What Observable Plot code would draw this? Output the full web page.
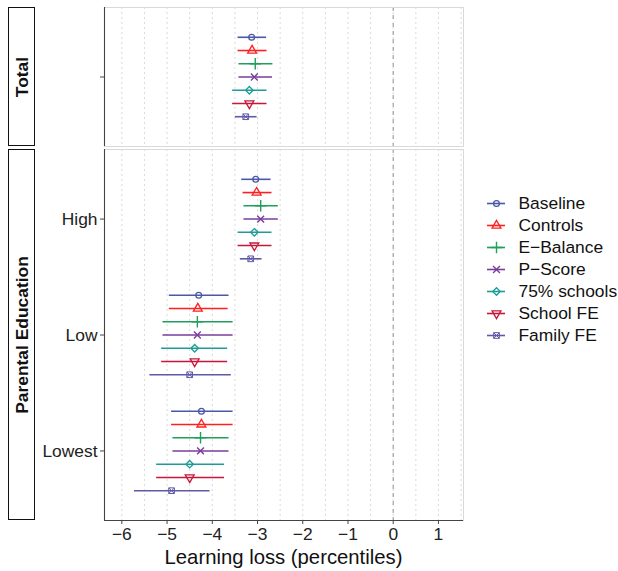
<!DOCTYPE html>
<html><head><meta charset="utf-8">
<script src="https://cdn.jsdelivr.net/npm/d3@7"></script>
<script src="https://cdn.jsdelivr.net/npm/@observablehq/plot@0.6"></script>
<style>
body{margin:0;background:#fff;font-family:"Liberation Sans",Arial,sans-serif;}
#wrap{position:relative;width:618px;height:571px;overflow:hidden;}
.strip{position:absolute;left:8px;width:27px;border:1.5px solid #111;box-sizing:border-box;background:#fff;}
.strip span{position:absolute;left:50%;top:50%;transform:translate(-50%,-50%) rotate(-90deg);white-space:nowrap;font-weight:bold;font-size:17.4px;color:#111;}
#xtitle{position:absolute;left:104px;width:359px;top:546px;text-align:center;font-size:20.3px;color:#111;}
</style></head><body>
<div id="wrap">
 <div class="strip" style="top:7px;height:139px"><span>Total</span></div>
 <div class="strip" style="top:149px;height:371px"><span>Parental Education</span></div>
 <div id="top" style="position:absolute;left:0;top:0"></div>
 <div id="bot" style="position:absolute;left:0;top:146px"></div>
 <div id="leg" style="position:absolute;left:470px;top:190px"></div>
 <div id="xtitle">Learning loss (percentiles)</div>
</div>
<script>
// ---- data ----
const models = ["Baseline","Controls","E\u2212Balance","P\u2212Score","75% schools","School FE","Family FE"];
const colors = ["#4a58a6","#ff1f1f","#1f9e5c","#7a3d9c","#1f9c97","#c8173a","#5f5aa8"];
const bottomGroups = ["High","Low","Lowest"];
const xTicks = [-6,-5,-4,-3,-2,-1,0,1];

const totalEst = [-3.13,-3.12,-3.05,-3.07,-3.18,-3.18,-3.26];
const totalLo  = [-3.43,-3.43,-3.41,-3.41,-3.55,-3.55,-3.49];
const totalHi  = [-2.80,-2.79,-2.66,-2.67,-2.79,-2.79,-3.01];

const highEst = [-3.04,-3.02,-2.93,-2.93,-3.07,-3.07,-3.15];
const highLo  = [-3.35,-3.32,-3.30,-3.30,-3.43,-3.43,-3.38];
const highHi  = [-2.70,-2.68,-2.54,-2.54,-2.68,-2.68,-2.90];

const lowEst = [-4.30,-4.32,-4.33,-4.33,-4.39,-4.39,-4.50];
const lowLo  = [-4.95,-4.95,-5.09,-5.09,-5.12,-5.12,-5.38];
const lowHi  = [-3.63,-3.65,-3.54,-3.54,-3.66,-3.66,-3.58];

const lowestEst = [-4.24,-4.24,-4.26,-4.26,-4.50,-4.50,-4.90];
const lowestLo  = [-4.90,-4.90,-4.87,-4.87,-5.23,-5.23,-5.72];
const lowestHi  = [-3.54,-3.54,-3.63,-3.63,-3.73,-3.73,-4.05];

// ---- symbols ----
const sqrt3 = Math.sqrt(3);
const triDown = {draw(ctx, size){ const y = -Math.sqrt(size/(sqrt3*3)); ctx.moveTo(0,-y*2); ctx.lineTo(-sqrt3*y, y); ctx.lineTo(sqrt3*y, y); ctx.closePath(); }};
const squareX = {draw(ctx, size){ const h = Math.sqrt(size)/2; ctx.moveTo(-h,-h); ctx.lineTo(h,-h); ctx.lineTo(h,h); ctx.lineTo(-h,h); ctx.closePath(); ctx.moveTo(-h,-h); ctx.lineTo(h,h); ctx.moveTo(h,-h); ctx.lineTo(-h,h); }};
const diamondSq = {draw(ctx, size){ const h = Math.sqrt(size)*0.62; ctx.moveTo(0,-h); ctx.lineTo(h,0); ctx.lineTo(0,h); ctx.lineTo(-h,0); ctx.closePath(); }};
const symbols = ["circle","triangle","plus","times",diamondSq,triDown,squareX];
const symR = [2.9,3.3,3.8,3.2,3.4,3.3,3.2];
const symW = [1.3,1.3,1.4,1.4,1.3,1.3,1.0];

const dodge = 0.8/7;
function rows(center, est, lo, hi){
  return models.map((m,i)=>({model:m, i, est:est[i], lo:lo[i], hi:hi[i], pos:center + (i-3)*dodge}));
}
const topData = rows(1, totalEst, totalLo, totalHi);
const botData = [
  ...rows(1, highEst, highLo, highHi),
  ...rows(2, lowEst, lowLo, lowHi),
  ...rows(3, lowestEst, lowestLo, lowestHi)
];

const xDomain = [-6.383, 1.554];
const gridVals = d3.range(-6, 1.51, 0.5);
const font = "Liberation Sans, Arial, sans-serif";
const fs = 17.4;

function panelMarks(data, yMax, isBottom){
  const marks = [
    Plot.ruleX(gridVals, {stroke:"#d6d6d6", strokeDasharray:"2,3", strokeWidth:0.9}),
    Plot.ruleX([0], {stroke:"#a3a3a3", strokeDasharray:"4,4", strokeWidth:1.2}),
    Plot.frame({stroke:"#d9d9d9", strokeWidth:1})
  ];
  models.forEach((m,i)=>{
    const d = data.filter(r=>r.i===i);
    marks.push(Plot.ruleY(d, {y:"pos", x1:"lo", x2:"hi", stroke:colors[i], strokeWidth:1.6}));
  });
  models.forEach((m,i)=>{
    const d = data.filter(r=>r.i===i);
    marks.push(Plot.dot(d, {x:"est", y:"pos", stroke:colors[i], fill:"none", symbol:symbols[i], r:symR[i], strokeWidth:symW[i]}));
  });
  marks.push(Plot.ruleX([xDomain[0]], {stroke:"#444", strokeWidth:1.1}));
  if (isBottom) {
    marks.push(Plot.ruleY([yMax], {stroke:"#444", strokeWidth:1.1}));
    marks.push(Plot.axisX({ticks:xTicks, tickSize:4, tickPadding:3, label:null, stroke:"#444", fill:"#222", fontSize:fs}));
    marks.push(Plot.axisY({ticks:[1,2,3], tickFormat:v=>bottomGroups[v-1], tickSize:4, tickPadding:3, label:null, stroke:"#444", fill:"#222", fontSize:fs}));
  } else {
    marks.push(Plot.axisY({ticks:[1], tickFormat:()=>"", tickSize:4, label:null, stroke:"#444"}));
  }
  return marks;
}

const topPlot = Plot.plot({
  width:465, height:146, marginTop:7, marginBottom:0, marginLeft:104, marginRight:2,
  style:{fontFamily:font, fontSize:fs+"px", background:"transparent", overflow:"visible"},
  x:{domain:xDomain, axis:null},
  y:{domain:[0.4,1.6], reverse:true},
  marks: panelMarks(topData, 1.6, false)
});
document.getElementById("top").append(topPlot);

const botPlot = Plot.plot({
  width:465, height:425, marginTop:3, marginBottom:51, marginLeft:104, marginRight:2,
  style:{fontFamily:font, fontSize:fs+"px", background:"transparent", overflow:"visible"},
  x:{domain:xDomain},
  y:{domain:[0.4,3.6], reverse:true},
  marks: panelMarks(botData, 3.6, true)
});
document.getElementById("bot").append(botPlot);

// ---- legend ----
const legMarks = [];
models.forEach((m,i)=>{
  legMarks.push(Plot.ruleY([m], {y:d=>d, x1:()=>17, x2:()=>35, stroke:colors[i], strokeWidth:1.6}));
  legMarks.push(Plot.dot([m], {y:d=>d, x:()=>26, stroke:colors[i], fill:"none", symbol:symbols[i], r:symR[i], strokeWidth:symW[i]}));
});
legMarks.push(Plot.text(models, {y:d=>d, x:()=>48, text:d=>d, textAnchor:"start", fill:"#111", fontSize:fs}));
const legPlot = Plot.plot({
  width:148, height:160, margin:0,
  style:{fontFamily:font, fontSize:fs+"px", background:"transparent", overflow:"visible"},
  x:{domain:[0,148], range:[0,148], axis:null},
  y:{type:"point", domain:models, range:[11.7,147], padding:0, axis:null},
  marks: legMarks
});
document.getElementById("leg").append(legPlot);
</script>
</body></html>
